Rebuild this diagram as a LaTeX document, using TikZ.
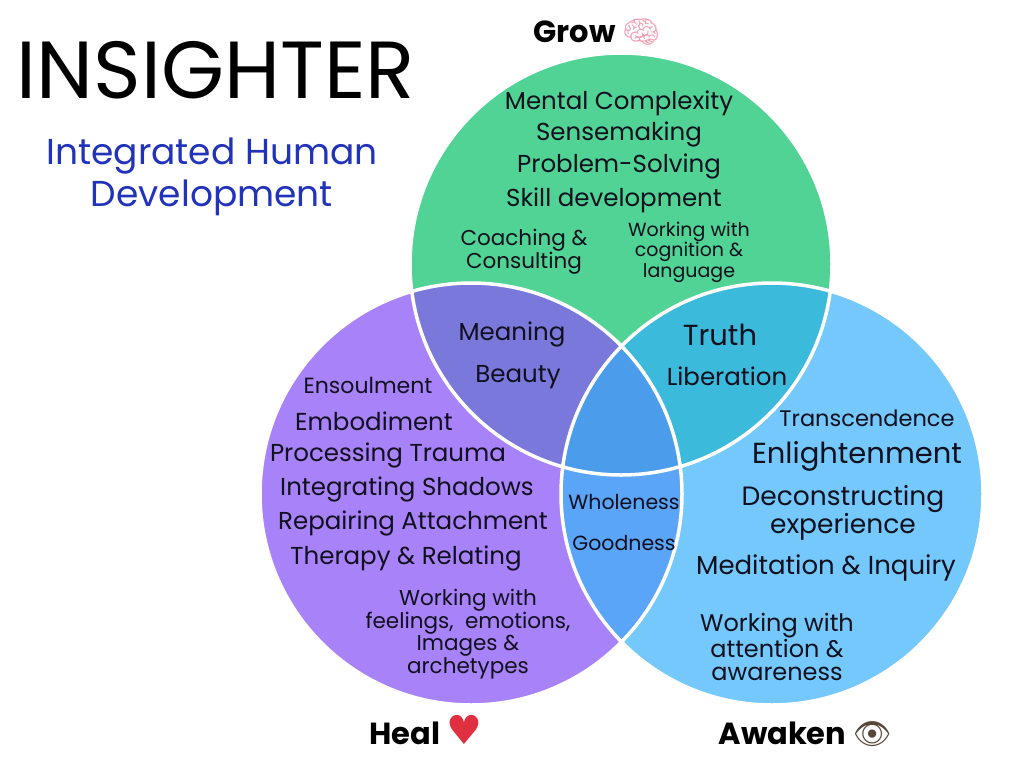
\documentclass[tikz,border=0pt]{standalone}
\usepackage{fontspec}
\setmainfont{Poppins}
\newfontfamily\emojifont{Noto Emoji}
\newfontfamily\symbolfont{DejaVu Sans}
\usetikzlibrary{positioning}
\definecolor{growgreen}{HTML}{50D395}
\definecolor{healpurple}{HTML}{A882F8}
\definecolor{awakenblue}{HTML}{74C8FB}
\definecolor{gpmix}{HTML}{7B78DB}
\definecolor{gbmix}{HTML}{3CBADC}
\definecolor{pbmix}{HTML}{5AA5F8}
\definecolor{allmix}{HTML}{4B9DEB}
\definecolor{inktext}{HTML}{10101E}
\definecolor{subblue}{HTML}{2233BB}
\definecolor{brainpink}{HTML}{F2A0B2}
\definecolor{heartred}{HTML}{E0303F}
\definecolor{eyebrown}{HTML}{5A4638}

\tikzset{
  item/.style={text=inktext, align=center, inner sep=0pt, font=\fontsize{24.5}{26}\selectfont},
  smallitem/.style={item, font=\fontsize{21.5}{22}\selectfont},
  tinyitem/.style={item, font=\fontsize{19}{18}\selectfont},
  bigitem/.style={item, font=\fontsize{29}{30}\selectfont},
  circlename/.style={text=black, inner sep=0pt, anchor=base, font=\fontsize{30.5}{32}\selectfont\bfseries},
  bubble/.style={line width=3.5pt, draw=white}
}

\begin{document}
\begin{tikzpicture}[x=1pt, y=-1pt]
\fill[white] (0,0) rectangle (1024,768);
\useasboundingbox (0,0) rectangle (1024,768);
\def\rr{211pt}
\coordinate (G) at (621,264);
\coordinate (P) at (471,494);
\coordinate (B) at (772,494);
% circles
\fill[healpurple] (P) circle[radius=\rr];
\fill[awakenblue] (B) circle[radius=\rr];
\fill[growgreen] (G) circle[radius=\rr];
% overlaps
\begin{scope}
  \clip (G) circle[radius=\rr];
  \fill[gpmix] (P) circle[radius=\rr];
  \fill[gbmix] (B) circle[radius=\rr];
\end{scope}
\begin{scope}
  \clip (P) circle[radius=\rr];
  \fill[pbmix] (B) circle[radius=\rr];
  \clip (B) circle[radius=\rr];
  \fill[allmix] (G) circle[radius=\rr];
\end{scope}
\foreach \c in {G,P,B}
  \draw[bubble] (\c) circle[radius=\rr];

% title
\node[inner sep=0pt, font=\fontsize{81}{82}\selectfont] (title) at (216,70) {INSIGHTER};
\node[text=subblue, align=center, inner sep=0pt, font=\fontsize{36}{42}\selectfont] (subtitle) at (212,177) {Integrated Human\\Development};

% names
\node[circlename] (grow) at (597,42) {Grow \textcolor{brainpink}{\emojifont 🧠}};
\node[circlename] (heal) at (426,744) {Heal \textcolor{heartred}{\symbolfont\fontsize{40}{40}\selectfont ♥}};
\node[circlename] (awaken) at (805,744) {Awaken \textcolor{eyebrown}{\emojifont 👁}};

% grow
\node[item] (mental) at (619,103) {Mental Complexity};
\node[item] (sense) at (619,134) {Sensemaking};
\node[item] (problem) at (619,166) {Problem-Solving};
\node[item] (skill) at (614,200) {Skill development};
\node[smallitem] (coaching) at (524,252) {Coaching \&\\Consulting};
\node[tinyitem] (cognition) at (689,252) {Working with\\cognition \&\\language};

% overlaps
\node[item] (meaning) at (512,334) {Meaning};
\node[item] (beauty) at (518,377) {Beauty};
\node[bigitem] (truth) at (720,335) {Truth};
\node[item] (liberation) at (727,376) {Liberation};
\node[item, font=\fontsize{20.5}{22}\selectfont] (wholeness) at (624,502) {Wholeness};
\node[item, font=\fontsize{20.5}{22}\selectfont] (goodness) at (624,543) {Goodness};

% heal
\node[item, font=\fontsize{22}{24}\selectfont] (ensoul) at (368,385) {Ensoulment};
\node[item] (embody) at (374,421) {Embodiment};
\node[item] (trauma) at (388,455) {Processing Trauma};
\node[item] (shadows) at (407,489) {Integrating Shadows};
\node[item] (attach) at (413,523) {Repairing Attachment};
\node[item] (therapy) at (406,558) {Therapy \& Relating};
\node[smallitem, font=\fontsize{21.5}{21}\selectfont] (feelings) at (468,634) {Working with\\feelings,\ \ emotions,\\Images \&\\archetypes};

% awaken
\node[item, font=\fontsize{22.5}{24}\selectfont] (transcend) at (867,418) {Transcendence};
\node[bigitem] (enlighten) at (857,456) {Enlightenment};
\node[item, font=\fontsize{26.5}{25}\selectfont] (deconstruct) at (843,513) {Deconstructing\\experience};
\node[item, font=\fontsize{26}{28}\selectfont] (meditate) at (826,568) {Meditation \& Inquiry};
\node[item, font=\fontsize{24}{23.5}\selectfont] (attention) at (777,647) {Working with\\attention \&\\awareness};
\end{tikzpicture}
\end{document}
